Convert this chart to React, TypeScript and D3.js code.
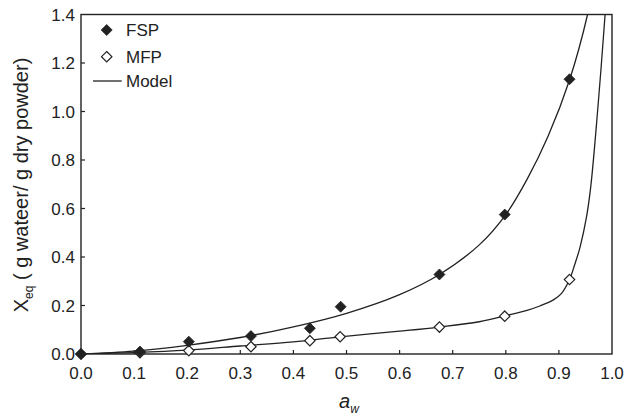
import React from "react";
import * as d3 from "d3";

const fspAw = [0, 0.111, 0.203, 0.32, 0.431, 0.489, 0.675, 0.798, 0.92];
const fspX = [0.0, 0.01, 0.051, 0.074, 0.106, 0.195, 0.328, 0.575, 1.133];
const mfpAw = [0, 0.111, 0.203, 0.32, 0.431, 0.488, 0.675, 0.798, 0.92];
const mfpX = [0.0, 0.005, 0.014, 0.03, 0.055, 0.071, 0.111, 0.156, 0.307];

const fspModelAw = [0, 0.1, 0.2, 0.3, 0.4, 0.5, 0.6, 0.675, 0.75, 0.8, 0.84, 0.88, 0.92, 0.954, 0.968];
const fspModelX = [0, 0.012, 0.036, 0.068, 0.112, 0.168, 0.245, 0.328, 0.45, 0.575, 0.72, 0.9, 1.13, 1.4, 1.56];
const mfpModelAw = [0, 0.1, 0.2, 0.3, 0.4, 0.488, 0.6, 0.675, 0.75, 0.8, 0.84, 0.864, 0.889, 0.905, 0.92, 0.93, 0.94, 0.952, 0.96, 0.973, 0.987, 0.993];
const mfpModelX = [0, 0.006, 0.016, 0.033, 0.05, 0.071, 0.094, 0.111, 0.133, 0.158, 0.18, 0.198, 0.222, 0.25, 0.307, 0.37, 0.442, 0.565, 0.69, 1.005, 1.4, 1.6];

const xTicks = [0, 0.1, 0.2, 0.3, 0.4, 0.5, 0.6, 0.7, 0.8, 0.9, 1.0];
const yTicks = [0, 0.2, 0.4, 0.6, 0.8, 1.0, 1.2, 1.4];

const W = 625, H = 419;
const L = 81, R = 612, T = 14.5, B = 354;
const C = "#222";
const FONT = "'Liberation Sans', Arial, sans-serif";

export default function App() {
  const x = d3.scaleLinear().domain([0, 1]).range([L, R]);
  const y = d3.scaleLinear().domain([0, 1.4]).range([B, T]);
  const line = d3
    .line<[number, number]>()
    .x((d) => x(d[0]))
    .y((d) => y(d[1]))
    .curve(d3.curveCatmullRom.alpha(0.5));
  const fspModel = fspModelAw.map((a, i) => [a, fspModelX[i]] as [number, number]);
  const mfpModel = mfpModelAw.map((a, i) => [a, mfpModelX[i]] as [number, number]);
  const dia = (cx: number, cy: number, r: number) =>
    `M${cx},${cy - r}L${cx + r},${cy}L${cx},${cy + r}L${cx - r},${cy}Z`;

  return (
    <svg width={W} height={H} style={{ position: "absolute", left: 0, top: 0, background: "#fff" }} fontFamily={FONT}>
      <defs>
        <clipPath id="plot">
          <rect x={L} y={T} width={R - L} height={B - T} />
        </clipPath>
      </defs>
      <rect x={0} y={0} width={W} height={H} fill="#fff" />
      {/* model curves */}
      <g clipPath="url(#plot)" fill="none" stroke={C} strokeWidth={1.3}>
        <path d={line(fspModel) || ""} />
        <path d={line(mfpModel) || ""} />
      </g>
      {/* ticks */}
      {xTicks.slice(1, -1).map((t) => (
        <line key={"xt" + t} x1={x(t)} x2={x(t)} y1={B} y2={B - 4} stroke={C} strokeWidth={1.2} />
      ))}
      {yTicks.slice(1, -1).map((t) => (
        <line key={"yt" + t} x1={L} x2={L + 4} y1={y(t)} y2={y(t)} stroke={C} strokeWidth={1.2} />
      ))}
      {/* frame */}
      <rect x={L} y={T} width={R - L} height={B - T} fill="none" stroke={C} strokeWidth={1.4} />
      {/* tick labels */}
      {xTicks.map((t) => (
        <text key={"xl" + t} x={x(t)} y={379} textAnchor="middle" fontSize={17} fill={C}>
          {t.toFixed(1)}
        </text>
      ))}
      {yTicks.map((t) => (
        <text key={"yl" + t} x={75} y={y(t) + 6} textAnchor="end" fontSize={17} fill={C}>
          {t.toFixed(1)}
        </text>
      ))}
      {/* MFP points */}
      {mfpAw.map((a, i) => (
        <path key={"m" + i} d={dia(x(a), y(mfpX[i]), 5.2)} fill="#fff" stroke={C} strokeWidth={1.2} />
      ))}
      {/* FSP points */}
      {fspAw.map((a, i) => (
        <path key={"f" + i} d={dia(x(a), y(fspX[i]), 5.5)} fill={C} stroke={C} strokeWidth={0.8} />
      ))}
      {/* legend */}
      <path d={dia(106.7, 30, 5.5)} fill={C} stroke={C} strokeWidth={0.8} />
      <text x={126} y={36} fontSize={17} fill={C}>FSP</text>
      <path d={dia(106.7, 56.7, 5.2)} fill="#fff" stroke={C} strokeWidth={1.2} />
      <text x={126} y={62.5} fontSize={17} fill={C}>MFP</text>
      <line x1={93} x2={121.7} y1={81} y2={81} stroke={C} strokeWidth={1.3} />
      <text x={126} y={87} fontSize={17} fill={C}>Model</text>
      {/* axis labels */}
      <text x={339} y={408} fontSize={20} fill={C} fontStyle="italic">
        a<tspan fontSize={12} dy={5} fontStyle="italic">w</tspan>
      </text>
      <text transform="translate(28,185) rotate(-90)" textAnchor="middle" fontSize={20} fill={C}>
        X<tspan fontSize={12} dy={5}>eq</tspan>
        <tspan dy={-5}> ( g wateer/ g dry powder)</tspan>
      </text>
    </svg>
  );
}
